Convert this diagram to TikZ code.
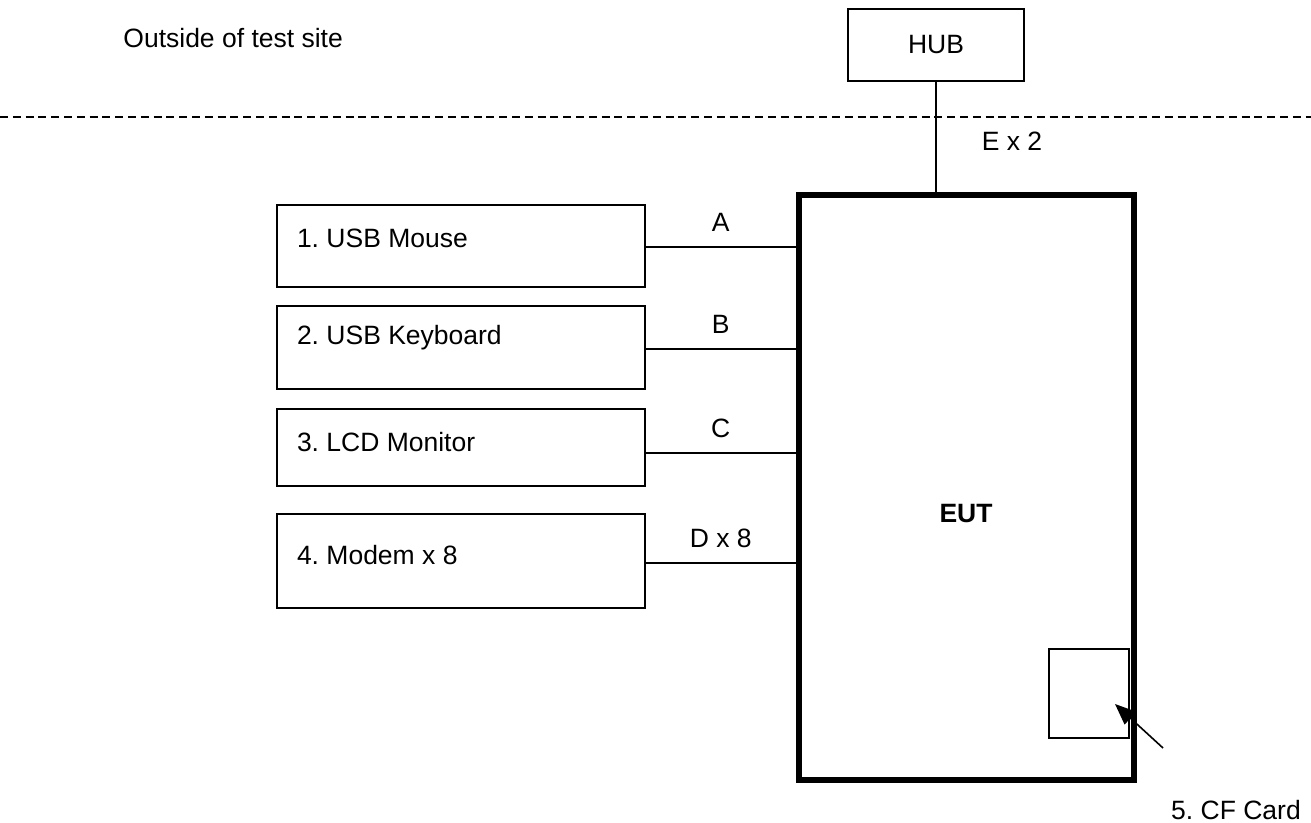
\documentclass[tikz,border=0pt]{standalone}
\usepackage{fontspec}
\setmainfont{Liberation Sans}
\usetikzlibrary{positioning, arrows.meta, calc}
\frenchspacing

\newcommand{\diaFont}{\fontsize{13.25}{15.9}\selectfont}

\tikzset{
  devBox/.style   ={draw, line width=0.9pt, minimum width=184pt, inner sep=0pt},
  devText/.style  ={font=\diaFont, inner sep=0pt, anchor=west},
  hubBox/.style   ={draw, line width=0.8pt, minimum width=88pt, minimum height=36pt, font=\diaFont},
  eutBox/.style   ={draw, line width=3pt, minimum width=167.75pt, minimum height=292.5pt},
  cfBox/.style    ={draw, line width=0.8pt, minimum width=40pt, minimum height=44.5pt},
  cable/.style    ={line width=0.8pt},
  cableLbl/.style ={font=\diaFont, inner sep=0pt, midway, above=7.25pt},
  plainLbl/.style ={font=\diaFont, inner sep=0pt},
}

\begin{document}
\begin{tikzpicture}[x=0.5pt, y=-0.5pt]
  \useasboundingbox (0,0) rectangle (1311,823);

  % site boundary
  \node[plainLbl, anchor=west] (siteLbl) at (123,38) {Outside of test site};
  \coordinate (fenceL) at (0,117);
  \coordinate (fenceR) at (1311,117);
  \draw[cable, dash pattern=on 4pt off 2.4pt] (fenceL) -- (fenceR);

  % equipment under test
  \node[hubBox] (hub) at (936,45) {HUB};
  \node[eutBox] (eut) at (966.25,487.5) {};
  \node[font=\diaFont\bfseries, inner sep=0pt] (eutLbl) at (966,514) {EUT};
  \node[cfBox] (cf) at (1089,693.5) {};

  \draw[cable] (hub.south) -- (hub.south |- eut.north)
    node[plainLbl, pos=0.54, right=22.5pt] (eLbl) {E x 2};

  % peripherals
  \node[devBox, minimum height=41pt]   (mouse) at (461,246)   {};
  \node[devBox, minimum height=41.5pt] (kbd)   at (461,347.5) {};
  \node[devBox, minimum height=38.5pt] (lcd)   at (461,447.5) {};
  \node[devBox, minimum height=47pt]   (modem) at (461,561)   {};

  \node[devText] (mouseTxt) at ([xshift=10.25pt, yshift=4pt]mouse.west)   {1. USB Mouse};
  \node[devText] (kbdTxt)   at ([xshift=10.25pt, yshift=4.75pt]kbd.west)  {2. USB Keyboard};
  \node[devText] (lcdTxt)   at ([xshift=10.25pt, yshift=2.75pt]lcd.west)  {3. LCD Monitor};
  \node[devText] (modemTxt) at ([xshift=10.25pt, yshift=3pt]modem.west)   {4. Modem x 8};

  % cables
  \coordinate (mousePort) at ([yshift=-0.5pt]mouse.east);
  \coordinate (kbdPort)   at ([yshift=-0.75pt]kbd.east);
  \coordinate (lcdPort)   at ([yshift=-2.6pt]lcd.east);
  \coordinate (modemPort) at ([yshift=-1pt]modem.east);
  \draw[cable] (mousePort) -- (mousePort -| eut.west) node[cableLbl] {A};
  \draw[cable] (kbdPort)   -- (kbdPort -| eut.west)   node[cableLbl] {B};
  \draw[cable] (lcdPort)   -- (lcdPort -| eut.west)   node[cableLbl] {C};
  \draw[cable] (modemPort) -- (modemPort -| eut.west) node[cableLbl] {D x 8};

  % CF card pointer
  \node[plainLbl] (cfLbl) at (1236,810) {5. CF Card};
  \coordinate (cfTail) at (1163,748);
  \coordinate (cfTip)  at (1115,704);
  \draw[cable, -{Triangle[length=10.5pt, width=8.5pt]}] (cfTail) -- (cfTip);
\end{tikzpicture}
\end{document}
